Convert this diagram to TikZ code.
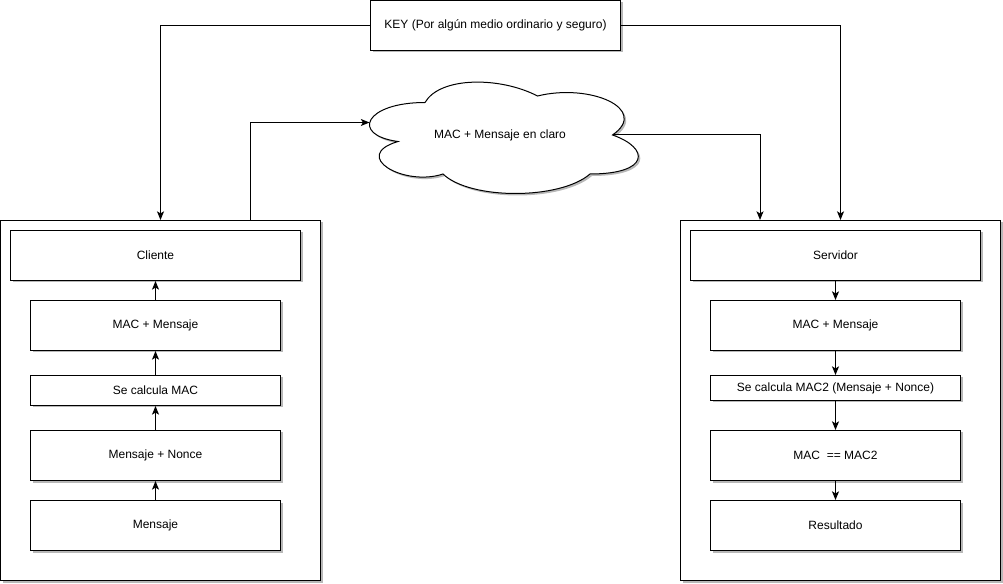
\documentclass[tikz,border=0pt]{standalone}
\usepackage{fontspec}
\setmainfont{Liberation Sans}
\usetikzlibrary{arrows.meta,shadows,calc}
\begin{document}
\begin{tikzpicture}[x=0.75pt,y=-0.75pt,
  font=\fontsize{9pt}{11pt}\selectfont,
  shadowed/.style={draw=black, line width=0.75pt, fill=white,
    drop shadow={shadow xshift=1.5pt, shadow yshift=-1.5pt, fill=black, opacity=0.28}},
  box/.style={shadowed, rectangle, inner sep=0pt, align=center},
  wide/.style={minimum width=187.5pt},
  link/.style={draw=black, line width=0.75pt, -{Stealth[length=6.5pt,width=5.25pt,inset=1.6pt]}}]
\useasboundingbox (0,0) rectangle (1003,584);

% shared key exchange
\node[box, minimum width=187.5pt, minimum height=37.5pt] (key) at (495.5,25.5)
  {KEY (Por algún medio ordinario y seguro)};

% transmitted message
\draw[shadowed] (425,102.5)
  .. controls (365,102.5) and (350,135) .. (398,141.5)
  .. controls (350,155.8) and (404,187) .. (443,174)
  .. controls (470,200) and (560,200) .. (590,174)
  .. controls (650,174) and (650,148) .. (612.5,135)
  .. controls (650,109) and (590,83) .. (537.5,96)
  .. controls (500,76.5) and (440,76.5) .. (425,102.5) -- cycle;
\node (cloud) at (500,135) {MAC + Mensaje en claro};
\coordinate (cloudL) at (369.5,122.5);
\coordinate (cloudR) at (612.5,135);

% client side
\node[box, minimum width=240pt, minimum height=270pt] (lout) at (160.5,400.5) {};
\node[box, minimum width=217.5pt, minimum height=37.5pt] (cli) at (155.5,255.5) {Cliente};
\node[box, wide, minimum height=37.5pt] (l1) at (155.5,325.5) {MAC + Mensaje};
\node[box, wide, minimum height=22.5pt] (l2) at (155.5,390.5) {Se calcula MAC};
\node[box, wide, minimum height=37.5pt] (l3) at (155.5,455.5) {Mensaje + Nonce};
\node[box, wide, minimum height=37.5pt] (l4) at (155.5,525.5) {Mensaje};

% server side
\node[box, minimum width=240pt, minimum height=270pt] (rout) at (840.5,400.5) {};
\node[box, minimum width=217.5pt, minimum height=37.5pt] (srv) at (835.5,255.5) {Servidor};
\node[box, wide, minimum height=37.5pt] (r1) at (835.5,325.5) {MAC + Mensaje};
\node[box, wide, minimum height=18.75pt] (r2) at (835.5,388) {Se calcula MAC2 (Mensaje + Nonce)};
\node[box, wide, minimum height=37.5pt] (r3) at (835.5,455.5) {MAC\ \ == MAC2};
\node[box, wide, minimum height=37.5pt] (r4) at (835.5,525.5) {Resultado};

% connectors
\draw[link] (key.west) -| (lout.north);
\draw[link] (key.east) -| (rout.north);
\draw[link] ($(lout.north west)+(250,0)$) |- (cloudL);
\draw[link] (cloudR) -| ($(rout.north west)+(80,0)$);

\draw[link] (l4) -- (l3);
\draw[link] (l3) -- (l2);
\draw[link] (l2) -- (l1);
\draw[link] (l1) -- (cli);

\draw[link] (srv) -- (r1);
\draw[link] (r1) -- (r2);
\draw[link] (r2) -- (r3);
\draw[link] (r3) -- (r4);
\end{tikzpicture}
\end{document}
